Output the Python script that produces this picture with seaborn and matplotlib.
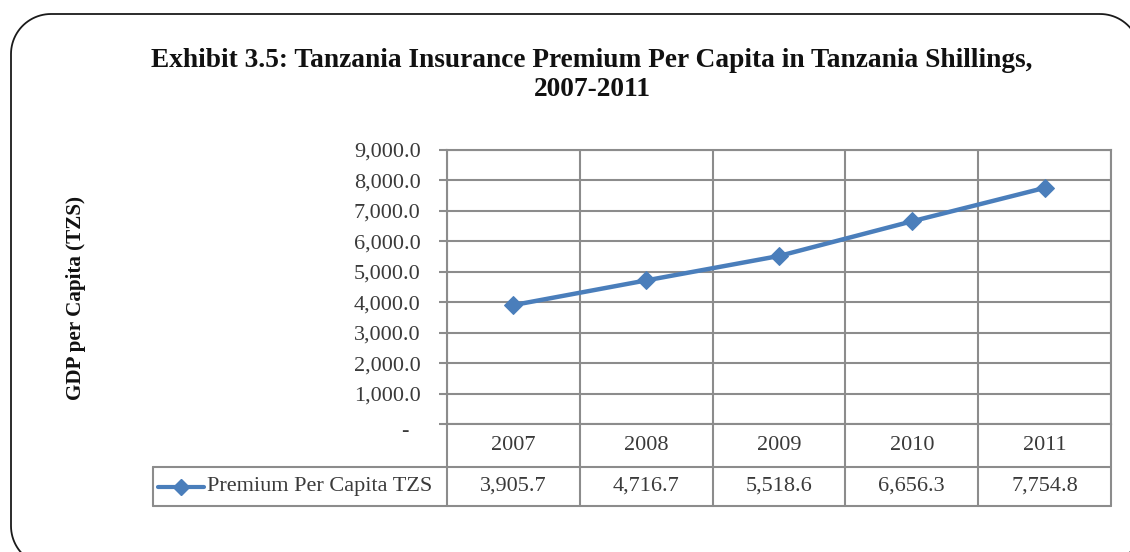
import matplotlib
matplotlib.use("Agg")
import matplotlib.pyplot as plt
import matplotlib.transforms as mtransforms
from matplotlib.patches import PathPatch
from matplotlib.path import Path
from matplotlib.lines import Line2D
import seaborn as sns
import numpy as np
import pandas as pd

# ---- data ----
years = [2007, 2008, 2009, 2010, 2011]
premium = [3905.7, 4716.7, 5518.6, 6656.3, 7754.8]
series_name = "Premium Per Capita TZS"
y_ticks = [0, 1000, 2000, 3000, 4000, 5000, 6000, 7000, 8000, 9000]
y_tick_labels = ["-  ", "1,000.0", "2,000.0", "3,000.0", "4,000.0", "5,000.0",
                 "6,000.0", "7,000.0", "8,000.0", "9,000.0"]
title = "Exhibit 3.5: Tanzania Insurance Premium Per Capita in Tanzania Shillings,\n2007-2011"
y_label = "GDP per Capita (TZS)"

df = pd.DataFrame({"Year": years, "Premium": premium})

sns.set_theme(style="white")
plt.rcParams["font.family"] = ["Liberation Serif", "DejaVu Serif"]

W, H = 1130, 552
fig = plt.figure(figsize=(W / 100, H / 100), dpi=100)
fig.patch.set_facecolor("white")


def fx(px):
    return px / W


def fy(py):
    # py measured from the top of the canvas
    return 1 - py / H


GRID = "#8c8c8c"
BLUE = "#4a7ebb"
TXT = "#3a3a3a"
FS = 16


def rounded_rect(x0, x1, ytop, ybot, r, n=24):
    """Closed outline of a rounded rectangle in display pixels (y from top)."""
    pts = []
    corners = [(x1 - r, ytop + r, 90, 0), (x1 - r, ybot - r, 0, -90),
               (x0 + r, ybot - r, -90, -180), (x0 + r, ytop + r, 180, 90)]
    for cx, cy, a0, a1 in corners:
        t = np.radians(np.linspace(a0, a1, n))
        for tt in t:
            pts.append((cx + r * np.cos(tt), H - (cy - r * np.sin(tt))))
    pts.append(pts[0])
    return Path(pts)


# rounded outer frame (runs slightly off the canvas at right and bottom)
frame = PathPatch(rounded_rect(11, 1140, 14, 566, 40), transform=None,
                  fill=False, edgecolor="#1a1a1a", linewidth=1.3)
fig.patches.append(frame)

# plot area
L, R, T, B = 447, 1111, 150, 424
ax = fig.add_axes([fx(L), fy(B), fx(R) - fx(L), fy(T) - fy(B)])
sns.lineplot(data=df, x="Year", y="Premium", ax=ax, color=BLUE, linewidth=3.2,
             marker="D", markersize=9, markeredgecolor=BLUE, markerfacecolor=BLUE)

ax.set_xlim(years[0] - 0.5, years[-1] + 0.5)
ax.set_ylim(y_ticks[0], y_ticks[-1])
ax.set_yticks(y_ticks)
ax.set_yticklabels(y_tick_labels)
ax.set_xticks([y - 0.5 for y in years] + [years[-1] + 0.5])
ax.set_xticklabels([])
ax.set_xlabel("")
ax.set_ylabel("")
ax.grid(True, color=GRID, linewidth=1.5)
ax.tick_params(axis="y", which="both", left=True, length=6, width=1.5, color=GRID,
               pad=13, labelsize=FS, labelcolor=TXT)
ax.tick_params(axis="x", length=0)
for s in ax.spines.values():
    s.set_color(GRID)
    s.set_linewidth(1.5)
# the zero label sits slightly lower than the others
zero_lbl = ax.get_yticklabels()[0]
zero_lbl.set_transform(zero_lbl.get_transform() +
                       mtransforms.ScaledTranslation(0, -5 / 100, fig.dpi_scale_trans))

# data table under the plot
row1_bot, row2_bot = 467, 506
leg_left = 153
bx = mtransforms.blended_transform_factory(ax.transData, fig.transFigure)
for xb in [years[0] - 0.5] + [y + 0.5 for y in years]:
    ax.add_line(Line2D([xb, xb], [fy(B), fy(row2_bot)], transform=bx, color=GRID,
                       linewidth=1.5, clip_on=False))
for yb in [row1_bot, row2_bot]:
    fig.lines.append(Line2D([fx(leg_left), fx(R)], [fy(yb), fy(yb)],
                            transform=fig.transFigure, color=GRID, linewidth=1.5))
fig.lines.append(Line2D([fx(leg_left), fx(leg_left)], [fy(row1_bot), fy(row2_bot)],
                        transform=fig.transFigure, color=GRID, linewidth=1.5))

for yr, val in zip(years, premium):
    ax.text(yr, fy((B + row1_bot) / 2), str(yr), transform=bx, ha="center",
            va="center", fontsize=FS, color=TXT)
    ax.text(yr, fy((row1_bot + row2_bot) / 2), f"{val:,.1f}", transform=bx,
            ha="center", va="center", fontsize=FS, color=TXT)

ymid = fy((row1_bot + row2_bot) / 2)
fig.lines.append(Line2D([fx(158), fx(204)], [ymid, ymid], transform=fig.transFigure,
                        color=BLUE, linewidth=3.0))
fig.lines.append(Line2D([fx(181)], [ymid], transform=fig.transFigure, color=BLUE,
                        marker="D", markersize=8, linestyle="none"))
fig.text(fx(207), ymid, series_name, ha="left", va="center", fontsize=FS, color=TXT)

# title and axis label
fig.text(fx(592), fy(75), title, ha="center", va="center", fontsize=19.7,
         fontweight="bold", color="#111111", linespacing=1.18)
fig.text(fx(76), fy(298), y_label, ha="center", va="center", rotation=90,
         fontsize=15.2, fontweight="bold", color="#111111")

fig.savefig("out.png", dpi=100, facecolor="white")
